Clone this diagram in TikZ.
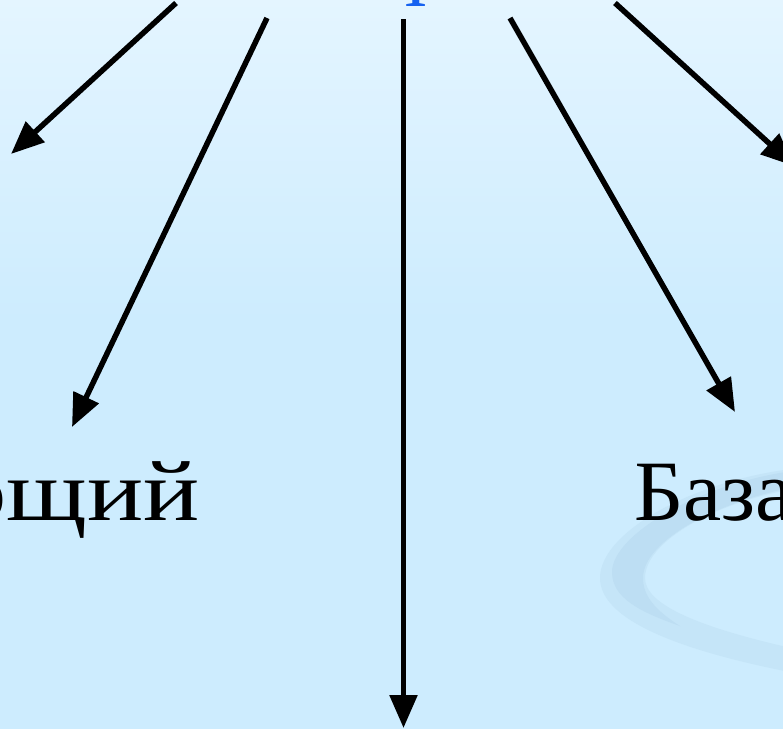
\documentclass[tikz,border=0pt]{standalone}
\usepackage{fontspec}
\setmainfont{Liberation Serif}
\usetikzlibrary{arrows.meta}
\definecolor{bgtop}{RGB}{228,245,255}
\definecolor{bgbot}{RGB}{205,236,254}
\definecolor{swlight}{RGB}{197,229,248}
\definecolor{swdark}{RGB}{189,222,243}
\definecolor{titleblue}{RGB}{22,98,240}
\tikzset{
  arr/.style={line width=5.5pt, -{Triangle[length=33pt,width=27pt]}},
  lbl/.style={inner sep=0pt, font=\fontsize{86}{100}\selectfont, text=black},
}
\begin{document}
\begin{tikzpicture}[x=1pt,y=-1pt]
\useasboundingbox (0,0) rectangle (783,729);
\clip (0,0) rectangle (783,729);
% background
\fill[bgbot] (0,0) rectangle (783,729);
\shade[top color=bgtop, bottom color=bgbot] (0,0) rectangle (783,320);
% swoosh
\fill[swlight] (800,468) .. controls (700,478) and (600,530) .. (600,578)
  .. controls (600,625) and (700,655) .. (800,674)
  -- (800,650) .. controls (700,628) and (645,605) .. (645,578)
  .. controls (645,540) and (720,500) .. (800,488) -- cycle;
\fill[swdark] (800,470) .. controls (700,482) and (612,535) .. (612,572)
  .. controls (612,598) and (640,612) .. (680,626)
  .. controls (655,610) and (643,596) .. (643,578)
  .. controls (643,540) and (720,500) .. (800,486) -- cycle;
% title fragment
\node[inner sep=0pt, anchor=base, font=\fontsize{86}{100}\selectfont, text=titleblue] (title) at (416.5,6) {т};
% labels
\node[lbl, anchor=base east] (left) at (200,520) {\scalebox{1.22}[1]{ющий}};
\node[lbl, anchor=base west] (baza) at (634,520) {База};
\node[lbl, anchor=base west] (right) at (780,263) {о};
% arrow coordinates
\coordinate (s1) at (176,3);   \coordinate (t1) at (11,154);
\coordinate (s2) at (267,18);  \coordinate (t2) at (72,427);
\coordinate (s3) at (403.5,19);\coordinate (t3) at (403.5,728);
\coordinate (s4) at (510,18);  \coordinate (t4) at (735,412);
\coordinate (s5) at (615,3);   \coordinate (t5) at (794,166);
\draw[arr] (s1) -- (t1);
\draw[arr] (s2) -- (t2);
\draw[arr] (s3) -- (t3);
\draw[arr] (s4) -- (t4);
\draw[arr] (s5) -- (t5);
\end{tikzpicture}
\end{document}
